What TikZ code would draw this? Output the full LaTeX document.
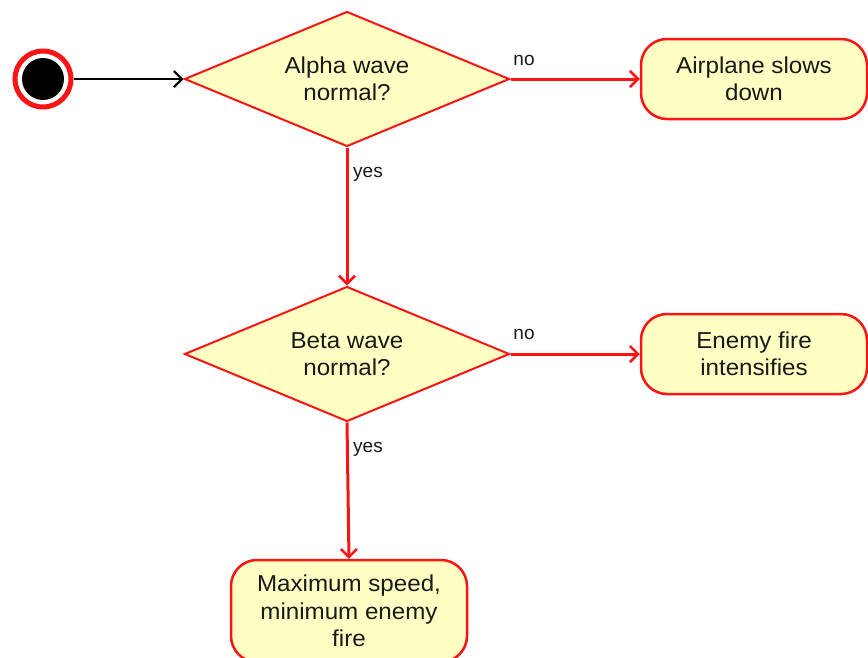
\documentclass[tikz,border=0pt]{standalone}
\usepackage{fontspec}
\setmainfont{Liberation Sans}
\newfontfamily\widesans[FakeStretch=1.05]{Liberation Sans}
\usetikzlibrary{shapes.geometric,arrows.meta}
\definecolor{notefill}{RGB}{255,255,196}
\definecolor{flowred}{RGB}{250,20,20}
\tikzset{
  maintext/.style={font=\widesans\fontsize{23}{27.5}\selectfont, align=center, text=black!90},
  decision/.style={diamond, draw=flowred, line width=2pt, fill=notefill,
    minimum width=325pt, minimum height=135pt, inner sep=0pt, aspect=2.4, maintext},
  activity/.style={rectangle, rounded corners=26pt, draw=flowred, line width=2.5pt,
    fill=notefill, inner sep=0pt, maintext},
  flow/.style={draw=flowred, line width=3pt, -{Straight Barb[length=8pt,width=16pt,line width=2.5pt]}},
  guard/.style={font=\fontsize{19}{21}\selectfont, text=black!90, inner sep=0pt}
}
\begin{document}
\begin{tikzpicture}[x=1pt,y=-1pt]
\clip (0,0) rectangle (868,657);
\fill[white] (0,0) rectangle (868,657);

% initial state
\node[circle, fill=black, minimum size=42pt, inner sep=0pt] (dot) at (43,79) {};
\node[circle, draw=flowred, line width=5pt, minimum size=56pt, inner sep=0pt] (start) at (43,79) {};

% decisions
\node[decision] (alpha) at (347,79) {Alpha wave\\normal?};
\node[decision] (beta) at (347,354) {Beta wave\\normal?};

% activities
\node[activity, minimum width=226pt, minimum height=80pt] (slow) at (754,79) {Airplane slows\\down};
\node[activity, minimum width=226pt, minimum height=80pt] (fire) at (754,354) {Enemy fire\\intensifies};
\node[activity, minimum width=236pt, minimum height=102pt] (max) at (349,611) {Maximum speed,\\minimum enemy\\fire};

% connectors
\draw[line width=2.5pt, -{Straight Barb[length=8pt,width=16pt,line width=2.2pt]}] (start.east) -- (alpha.west);
\draw[flow] (alpha.east) -- (slow.west);
\draw[flow] (alpha.south) -- (beta.north);
\draw[flow] (beta.east) -- (fire.west);
\draw[flow] (beta.south) -- (max.north);

% guards
\node[guard] (no1) at (524,60) {no};
\node[guard] (yes1) at (368,174) {yes};
\node[guard] (no2) at (524,334) {no};
\node[guard] (yes2) at (368,449) {yes};
\end{tikzpicture}
\end{document}
